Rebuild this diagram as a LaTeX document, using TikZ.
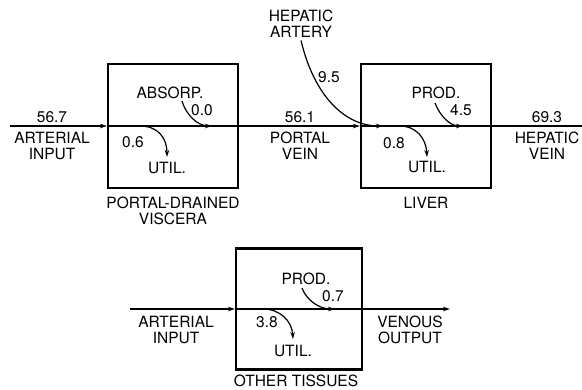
\documentclass[tikz,border=0pt]{standalone}
\usepackage{fontspec}
\setmainfont{TeX Gyre Heros}
\usetikzlibrary{arrows.meta}

\begin{document}
\begin{tikzpicture}[
    x=1pt, y=-1pt,
    organ/.style={rectangle, draw, line width=2.2pt, minimum width=130pt, minimum height=124pt, inner sep=0pt},
    flow/.style={line width=1.2pt},
    arr/.style={flow, -{Stealth[length=7pt, width=4.5pt]}},
    txt/.style={font=\fontsize{15.5}{15.5}\selectfont, inner sep=0pt, align=center},
    num/.style={txt, anchor=base},
    lbl/.style={txt, anchor=north}
]
    \useasboundingbox (0,0) rectangle (582,389);

    \node[organ] (pdv) at (173,126) {};
    \node[organ] (liver) at (426,126) {};
    \node[organ, minimum width=126pt, minimum height=121pt] (other) at (299,309) {};

    \node[lbl] (pdvname) at (173,197) {PORTAL-DRAINED\\VISCERA};
    \node[lbl] (livername) at (426,197) {LIVER};
    \node[lbl] (othername) at (296,375) {OTHER TISSUES};

    \coordinate (ain) at (10,126);
    \coordinate (hvout) at (582,126);
    \coordinate (oin) at (130,309);
    \coordinate (oout) at (450,309);

    \draw[arr] (ain) -- (pdv.west);
    \draw[flow] (pdv.west) -- (pdv.east);
    \draw[arr] (pdv.east) -- (liver.west);
    \draw[flow] (liver.west) -- (liver.east) -- (hvout);
    \draw[arr] (oin) -- (other.west);
    \draw[flow] (other.west) -- (other.east);
    \draw[arr] (other.east) -- (oout);

    \node[num] (ainval) at (52,122) {56.7};
    \node[lbl] (ainname) at (52,132) {ARTERIAL\\INPUT};
    \node[num] (pvval) at (300,122) {56.1};
    \node[lbl] (pvname) at (300,132) {PORTAL\\VEIN};
    \node[num] (hvval) at (547,122) {69.3};
    \node[lbl] (hvname) at (547,132) {HEPATIC\\VEIN};
    \node[lbl] (oinname) at (176,316) {ARTERIAL\\INPUT};
    \node[lbl] (ooutname) at (410,316) {VENOUS\\OUTPUT};

    \node[lbl] (haname) at (301,10) {HEPATIC\\ARTERY};
    \node[num] (haval) at (329,82) {9.5};
    \draw[arr] ([yshift=-3pt]haname.south) .. controls (314,95) and (344,126) .. (383,126);

    \node[num] (absname) at (170,98) {ABSORP.};
    \node[num] (absval) at (202,115) {0.0};
    \coordinate (absA) at (182,101);
    \draw[arr] (absA) .. controls (186,115) and (198,126) .. (212,126);
    \node[num] (pdvuval) at (133,147) {0.6};
    \node[num] (pdvuname) at (167,173) {UTIL.};
    \coordinate (pdvU) at (140,126);
    \draw[arr] (pdvU) .. controls (158,126) and (167,138) .. (167,157);

    \node[num] (lprodname) at (436,98) {PROD.};
    \node[num] (lprodval) at (461,115) {4.5};
    \coordinate (lprodA) at (435,103);
    \draw[arr] (lprodA) .. controls (440,116) and (450,126) .. (463,126);
    \node[num] (luval) at (394,148) {0.8};
    \node[num] (luname) at (427,172) {UTIL.};
    \coordinate (liverU) at (400,126);
    \draw[arr] (liverU) .. controls (416,126) and (426,138) .. (427,157);

    \node[num] (oprodname) at (306,284) {PROD.};
    \node[num] (oprodval) at (333,301) {0.7};
    \coordinate (oprodA) at (302,288);
    \draw[arr] (oprodA) .. controls (306,299) and (318,309) .. (335,309);
    \node[num] (ouval) at (267,327) {3.8};
    \node[num] (ouname) at (293,356) {UTIL.};
    \coordinate (otherU) at (263,309);
    \draw[arr] (otherU) .. controls (280,309) and (292,321) .. (293,339);
\end{tikzpicture}
\end{document}
